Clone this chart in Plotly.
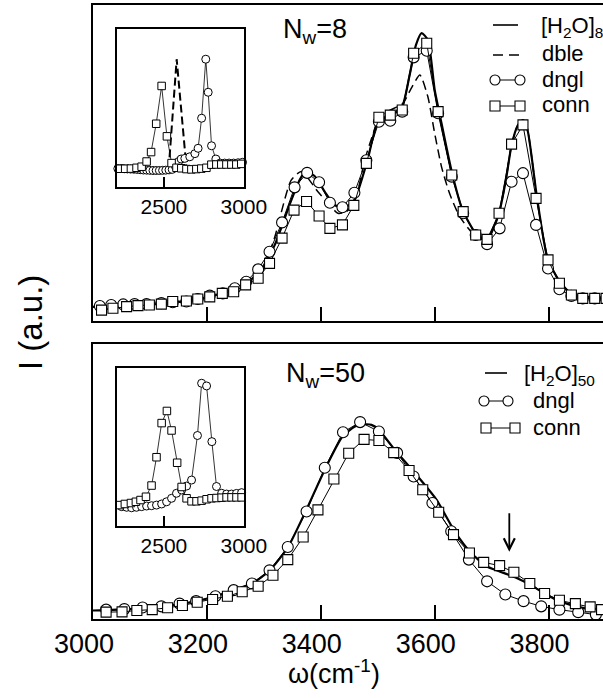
import plotly.graph_objects as go

# ---------------- data ----------------
# Top panel, N_w = 8
top_tot_x = [3000,3047,3099,3152,3187,3222,3258,3293,3319,3345,3363,3373,3389,3407,3424,3442,3459,3482,3500,3521,3542,3556,3567,3577,3588,3600,3609,3630,3649,3672,3691,3712,3725,3735,3746,3755,3763,3779,3798,3820,3841,3895]
top_tot_y = [0.043,0.049,0.052,0.059,0.068,0.084,0.106,0.154,0.239,0.366,0.446,0.471,0.458,0.408,0.366,0.357,0.382,0.508,0.628,0.651,0.674,0.778,0.873,0.911,0.889,0.731,0.651,0.471,0.350,0.277,0.254,0.334,0.445,0.556,0.619,0.635,0.604,0.398,0.198,0.122,0.084,0.071]

top_dble_x = [3000,3047,3099,3152,3187,3222,3258,3293,3316,3348,3366,3395,3410,3430,3445,3462,3477,3492,3503,3520,3544,3560,3574,3588,3600,3612,3626,3644,3667,3691,3712,3725,3735,3746,3755,3763,3779,3798,3820,3841,3895]
top_dble_y = [0.043,0.049,0.052,0.059,0.068,0.084,0.106,0.154,0.246,0.445,0.472,0.408,0.377,0.340,0.345,0.392,0.508,0.593,0.646,0.665,0.688,0.740,0.778,0.709,0.593,0.487,0.403,0.329,0.276,0.253,0.334,0.445,0.556,0.619,0.635,0.604,0.398,0.198,0.122,0.084,0.071]

top_dngl_x = [3012,3032,3053,3073,3094,3120,3140,3164,3184,3205,3228,3249,3269,3290,3310,3332,3354,3376,3397,3416,3438,3459,3480,3502,3522,3543,3563,3586,3606,3630,3650,3672,3692,3714,3735,3755,3778,3799,3819,3840,3860,3881,3901]
top_dngl_y = [0.046,0.049,0.051,0.052,0.052,0.055,0.058,0.060,0.068,0.079,0.086,0.102,0.123,0.162,0.218,0.311,0.422,0.468,0.438,0.373,0.359,0.405,0.508,0.630,0.633,0.662,0.834,0.855,0.657,0.456,0.340,0.271,0.242,0.292,0.440,0.467,0.303,0.165,0.099,0.078,0.070,0.070,0.070]

top_conn_x = [3015,3035,3059,3079,3099,3120,3140,3164,3184,3205,3227,3247,3268,3290,3310,3332,3353,3375,3397,3416,3438,3458,3480,3502,3522,3543,3563,3586,3606,3630,3650,3672,3692,3713,3735,3755,3778,3799,3819,3840,3860,3881,3901]
top_conn_y = [0.033,0.039,0.044,0.047,0.049,0.052,0.060,0.062,0.068,0.075,0.086,0.091,0.113,0.134,0.181,0.261,0.350,0.377,0.331,0.292,0.303,0.365,0.498,0.644,0.651,0.667,0.847,0.879,0.662,0.461,0.345,0.271,0.257,0.340,0.559,0.620,0.387,0.192,0.118,0.081,0.070,0.070,0.070]

# Top inset (N_w = 8)
ins8_conn_x = [2225,2258,2294,2329,2361,2392,2420,2452,2486,2519,2548,2579,2609,2641,2672,2703,2734,2766,2797,2828,2859,2891,2922,2953,2984]
ins8_conn_y = [0.114,0.114,0.115,0.120,0.127,0.160,0.220,0.400,0.640,0.320,0.150,0.120,0.117,0.112,0.110,0.112,0.115,0.120,0.140,0.141,0.141,0.141,0.141,0.141,0.145]
ins8_dngl_x = [2212,2232,2252,2272,2292,2312,2332,2352,2372,2392,2412,2432,2452,2472,2492,2512,2532,2552,2572,2592,2608,2631,2662,2694,2714,2736,2762,2777,2798,2825,2852,2880,2908,2936,2964,2992]
ins8_dngl_y = [0.115,0.115,0.114,0.113,0.112,0.111,0.110,0.108,0.106,0.105,0.104,0.103,0.103,0.103,0.104,0.105,0.107,0.110,0.130,0.160,0.176,0.180,0.190,0.210,0.244,0.435,0.810,0.600,0.260,0.176,0.150,0.150,0.150,0.150,0.152,0.155]
ins8_dble_x = [2530,2580,2642]
ins8_dble_y = [0.110,0.810,0.110]

# Bottom panel, N_w = 50
bot_tot_x = [3000,3064,3117,3170,3214,3247,3279,3310,3342,3373,3407,3438,3459,3472,3489,3502,3530,3563,3603,3635,3664,3691,3714,3743,3767,3796,3819,3849,3878,3895]
bot_tot_y = [0.031,0.036,0.045,0.060,0.082,0.105,0.129,0.176,0.260,0.390,0.543,0.663,0.699,0.708,0.706,0.688,0.615,0.536,0.434,0.319,0.240,0.192,0.173,0.150,0.125,0.089,0.065,0.046,0.034,0.031]

bot_dngl_x = [3023,3055,3087,3120,3152,3181,3215,3247,3279,3310,3342,3375,3407,3439,3469,3502,3534,3563,3596,3629,3660,3692,3724,3756,3787,3819,3852,3883]
bot_dngl_y = [0.034,0.036,0.042,0.046,0.056,0.065,0.083,0.105,0.129,0.177,0.262,0.391,0.550,0.679,0.716,0.682,0.604,0.518,0.422,0.319,0.216,0.137,0.089,0.065,0.046,0.034,0.025,0.016]

bot_conn_x = [3023,3051,3077,3104,3131,3157,3183,3210,3236,3262,3290,3316,3342,3369,3395,3423,3449,3476,3502,3528,3555,3579,3607,3633,3661,3686,3714,3739,3767,3793,3819,3847,3873,3893]
bot_conn_y = [0.025,0.026,0.031,0.034,0.041,0.049,0.061,0.071,0.083,0.099,0.119,0.159,0.216,0.298,0.397,0.509,0.603,0.653,0.649,0.605,0.540,0.470,0.388,0.307,0.240,0.206,0.194,0.170,0.129,0.093,0.068,0.056,0.044,0.034]

# Bottom inset (N_w = 50)
ins50_conn_x = [2225,2256,2294,2325,2354,2388,2423,2454,2486,2519,2548,2583,2611,2642,2673,2704,2736,2767,2798,2829,2861,2892,2923,2954,2986]
ins50_conn_y = [0.131,0.138,0.144,0.152,0.163,0.184,0.255,0.435,0.652,0.729,0.605,0.400,0.246,0.174,0.155,0.155,0.159,0.168,0.174,0.176,0.178,0.180,0.180,0.180,0.180]
ins50_dngl_x = [2236,2267,2298,2329,2361,2392,2423,2454,2486,2517,2548,2579,2611,2642,2673,2710,2736,2767,2800,2829,2861,2892,2923,2954,2986]
ins50_dngl_y = [0.121,0.117,0.114,0.117,0.121,0.125,0.127,0.131,0.138,0.152,0.174,0.206,0.227,0.252,0.290,0.573,0.905,0.888,0.534,0.249,0.206,0.201,0.201,0.205,0.210]

arrow_x = 3731
arrow_head_y = 0.245
arrow_tail_y = 0.39

main_ticks = [3000, 3200, 3400, 3600, 3800]
inset_ticks = [2500, 3000]

# ---------------- layout geometry ----------------
W, H = 603, 698
ML, MR, MT, MB = 93, 0, 5, 79
PW, PH = W - ML - MR, H - MT - MB
FONT = "Liberation Sans, Arial, sans-serif"


def fx(px):
    return (px - ML) / PW


def fy(py):
    return (H - MB - py) / PH


fig = go.Figure()

circle_s = dict(symbol="circle", size=8, color="white", line=dict(width=1, color="black"))
square_s = dict(symbol="square", size=7.5, color="white", line=dict(width=1, color="black"))
circle_m = dict(symbol="circle", size=11, color="white", line=dict(width=1.1, color="black"))
square_m = dict(symbol="square", size=10, color="white", line=dict(width=1.1, color="black"))

# top main
fig.add_trace(go.Scatter(x=top_tot_x, y=top_tot_y, mode="lines", line=dict(color="black", width=2.2, shape="spline", smoothing=0.6), xaxis="x", yaxis="y"))
fig.add_trace(go.Scatter(x=top_dble_x, y=top_dble_y, mode="lines", line=dict(color="black", width=1.5, dash="9px,5px", shape="spline", smoothing=0.6), xaxis="x", yaxis="y"))
fig.add_trace(go.Scatter(x=top_dngl_x, y=top_dngl_y, mode="lines+markers", line=dict(color="black", width=1), marker=circle_m, xaxis="x", yaxis="y"))
fig.add_trace(go.Scatter(x=top_conn_x, y=top_conn_y, mode="lines+markers", line=dict(color="black", width=1), marker=square_m, xaxis="x", yaxis="y"))

# bottom main
fig.add_trace(go.Scatter(x=bot_tot_x, y=bot_tot_y, mode="lines", line=dict(color="black", width=2.2, shape="spline", smoothing=0.6), xaxis="x2", yaxis="y2"))
fig.add_trace(go.Scatter(x=bot_dngl_x, y=bot_dngl_y, mode="lines+markers", line=dict(color="black", width=1), marker=circle_m, xaxis="x2", yaxis="y2"))
fig.add_trace(go.Scatter(x=bot_conn_x, y=bot_conn_y, mode="lines+markers", line=dict(color="black", width=1), marker=square_m, xaxis="x2", yaxis="y2"))

# top inset
fig.add_trace(go.Scatter(x=ins8_dble_x, y=ins8_dble_y, mode="lines", line=dict(color="black", width=2, dash="8px,4px"), xaxis="x3", yaxis="y3", cliponaxis=False))
fig.add_trace(go.Scatter(x=ins8_dngl_x, y=ins8_dngl_y, mode="lines+markers", line=dict(color="black", width=0.8), marker=circle_s, xaxis="x3", yaxis="y3", cliponaxis=False))
fig.add_trace(go.Scatter(x=ins8_conn_x, y=ins8_conn_y, mode="lines+markers", line=dict(color="black", width=0.8), marker=square_s, xaxis="x3", yaxis="y3", cliponaxis=False))

# bottom inset
fig.add_trace(go.Scatter(x=ins50_dngl_x, y=ins50_dngl_y, mode="lines+markers", line=dict(color="black", width=0.8), marker=circle_s, xaxis="x4", yaxis="y4", cliponaxis=False))
fig.add_trace(go.Scatter(x=ins50_conn_x, y=ins50_conn_y, mode="lines+markers", line=dict(color="black", width=0.8), marker=square_s, xaxis="x4", yaxis="y4", cliponaxis=False))

top_dom = [fy(320.5), 1.0]
bot_dom = [0.0, fy(344)]
ins8_x = [fx(116.7), fx(244)]
ins8_y = [fy(186.7), fy(29.3)]
ins50_y = [fy(525.7), fy(368.3)]

main_x = dict(range=[3000, 3000 + PW * 200 / 113.9], showline=True, linewidth=2, linecolor="black", mirror=True,
              ticks="inside", ticklen=14, tickwidth=2, tickcolor="black", tickvals=main_ticks,
              ticklabelshift=-9,
              showgrid=False, zeroline=False, tickfont=dict(family=FONT, size=27, color="black"))
main_y = dict(range=[0, 1], showline=True, linewidth=2, linecolor="black", showticklabels=False,
              ticks="", showgrid=False, zeroline=False)
ins_x = dict(range=[2205, 3001], showline=True, linewidth=2, linecolor="black", mirror=True,
             ticks="inside", ticklen=10, tickwidth=2, tickcolor="black", tickvals=inset_ticks,
             showgrid=False, zeroline=False, tickfont=dict(family=FONT, size=21, color="black"))
ins_y = dict(range=[0, 1], showline=True, linewidth=2, linecolor="black", mirror=True,
             showticklabels=False, ticks="", showgrid=False, zeroline=False)

fig.update_layout(
    width=W, height=H, autosize=False,
    margin=dict(l=ML, r=MR, t=MT, b=MB, pad=0, autoexpand=False),
    paper_bgcolor="white", plot_bgcolor="white", showlegend=False,
    font=dict(family=FONT, color="black"),
    xaxis=dict(main_x, domain=[0, 1], anchor="y", showticklabels=False),
    yaxis=dict(main_y, domain=top_dom, anchor="x"),
    xaxis2=dict(main_x, domain=[0, 1], anchor="y2"),
    yaxis2=dict(main_y, domain=bot_dom, anchor="x2"),
    xaxis3=dict(ins_x, domain=ins8_x, anchor="y3"),
    yaxis3=dict(ins_y, domain=ins8_y, anchor="x3"),
    xaxis4=dict(ins_x, domain=ins8_x, anchor="y4"),
    yaxis4=dict(ins_y, domain=ins50_y, anchor="x4"),
)

shapes = []
ann = []


def hline(x0, x1, y, width=2):
    shapes.append(dict(type="line", xref="paper", yref="paper", x0=fx(x0), x1=fx(x1), y0=fy(y), y1=fy(y),
                       line=dict(color="black", width=width)))


def marker_shape(kind, cx, cy, r=5):
    shapes.append(dict(type="circle" if kind == "c" else "rect", xref="paper", yref="paper",
                       x0=fx(cx - r), x1=fx(cx + r), y0=fy(cy + r), y1=fy(cy - r),
                       line=dict(color="black", width=1.1), fillcolor="white"))


def label(text, px, py, size=22):
    ann.append(dict(text=text, xref="paper", yref="paper", x=fx(px), y=fy(py), xanchor="left",
                    yanchor="middle", showarrow=False, font=dict(family=FONT, size=size, color="black")))


# top legend
hline(493, 518, 25, 1.6)
label("[H<sub>2</sub>O]<sub>8</sub>", 539, 27)
hline(493, 503, 55, 1.5)
hline(509, 519, 55, 1.5)
label("dble", 540, 53)
hline(495, 520, 80, 1)
marker_shape("c", 495, 80)
marker_shape("c", 520, 80)
label("dngl", 540, 79)
hline(495, 520, 106, 1)
marker_shape("s", 495, 106)
marker_shape("s", 520, 106)
label("conn", 540, 105)

# bottom legend
hline(485, 507, 373, 1.6)
label("[H<sub>2</sub>O]<sub>50</sub>", 522, 375)
hline(484, 508, 401, 1)
marker_shape("c", 484, 401)
marker_shape("c", 508, 401)
label("dngl", 531, 400)
hline(486, 515, 428, 1)
marker_shape("s", 486, 428)
marker_shape("s", 515, 428)
label("conn", 531, 427)

# panel labels
label("N<sub>w</sub>=8", 281, 31, 27)
label("N<sub>w</sub>=50", 284, 375, 27)

# axis titles
ann.append(dict(text="I (a.u.)", xref="paper", yref="paper", x=fx(30), y=fy(323), textangle=-90,
                showarrow=False, xanchor="center", yanchor="middle", font=dict(family=FONT, size=33, color="black")))
ann.append(dict(text="ω(cm<sup>-1</sup>)", xref="paper", yref="paper", x=fx(334), y=fy(672),
                showarrow=False, xanchor="center", yanchor="middle", font=dict(family=FONT, size=27, color="black")))

# arrow in bottom panel
ann.append(dict(x=arrow_x, y=arrow_head_y, ax=arrow_x, ay=arrow_tail_y, xref="x2", yref="y2", axref="x2", ayref="y2",
                showarrow=True, arrowhead=5, arrowsize=1.2, arrowwidth=1.8, arrowcolor="black", text="", standoff=0))

fig.update_layout(shapes=shapes, annotations=ann)
fig.write_html("out.html")
